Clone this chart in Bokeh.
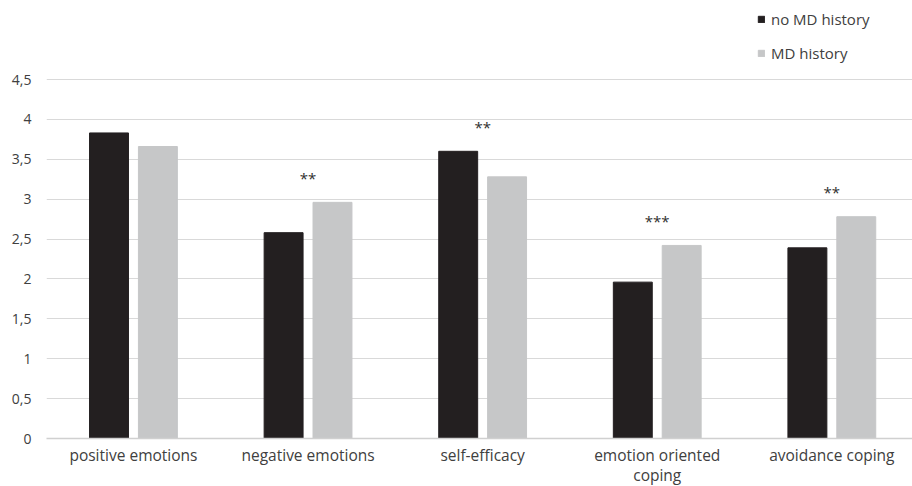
from bokeh.plotting import figure
from bokeh.models import Range1d, ColumnDataSource, Legend, LegendItem, FixedTicker
from bokeh.core.properties import value
from bokeh.embed import file_html
from bokeh.resources import INLINE

categories = ["positive emotions", "negative emotions", "self-efficacy", "emotion oriented\ncoping", "avoidance coping"]
no_md = [3.83, 2.58, 3.60, 1.96, 2.39]
md = [3.66, 2.96, 3.28, 2.42, 2.78]
signif = ["", "**", "**", "***", "**"]
y_ticks = [0, 0.5, 1, 1.5, 2, 2.5, 3, 3.5, 4, 4.5]
y_tick_labels = ["0", "0,5", "1", "1,5", "2", "2,5", "3", "3,5", "4", "4,5"]
series_names = ["no MD history", "MD history"]

FONT = "Open Sans"
TXT = "#404040"

idx = list(range(len(categories)))
off = 0.14
bw = 0.223

# frame spans from top of figure to the baseline; 4.5 gridline sits 79px below top
p = figure(output_backend="svg", toolbar_location=None,
           x_range=Range1d(-0.498, 4.462), y_range=Range1d(0, 4.5 * 438 / 359))
p.frame_width = 866
p.frame_height = 438
p.min_border_left = 46
p.min_border_right = 0
p.min_border_top = 0
p.min_border_bottom = 0
p.outline_line_color = None
p.background_fill_color = "white"
p.border_fill_color = "white"

src = ColumnDataSource(dict(
    x0=[i - off for i in idx], x1=[i + off for i in idx],
    a=no_md, b=md,
    xs=idx, ys=[max(a, b) + 0.31 for a, b in zip(no_md, md)], s=signif))

r1 = p.vbar(x="x0", top="a", width=bw, source=src, fill_color="#231f20", line_color="#231f20")
r2 = p.vbar(x="x1", top="b", width=bw, source=src, fill_color="#c6c7c8", line_color="#c6c7c8")
p.text(x="xs", y="ys", text="s", source=src, text_align="center", text_baseline="middle",
       text_font=value(FONT), text_font_size="15px", text_color="#303030")

# grid
p.xgrid.visible = False
p.ygrid.ticker = FixedTicker(ticks=y_ticks[1:])
p.ygrid.grid_line_color = "#d9d9d9"
p.ygrid.grid_line_width = 1

# y axis
p.yaxis.ticker = FixedTicker(ticks=y_ticks)
p.yaxis.major_label_overrides = {t: l for t, l in zip(y_ticks, y_tick_labels)}
p.yaxis.axis_line_color = None
p.yaxis.major_tick_line_color = None
p.yaxis.minor_tick_line_color = None
p.yaxis.major_tick_out = 0
p.yaxis.major_tick_in = 0
p.yaxis.major_label_text_font = FONT
p.yaxis.major_label_text_font_size = "14px"
p.yaxis.major_label_text_color = TXT
p.yaxis.major_label_standoff = 15

# x axis
p.xaxis.ticker = FixedTicker(ticks=idx)
p.xaxis.major_label_overrides = {i: c for i, c in zip(idx, categories)}
p.xaxis.axis_line_color = "#d0d0d0"
p.xaxis.axis_line_width = 1.5
p.xaxis.major_tick_line_color = None
p.xaxis.minor_tick_line_color = None
p.xaxis.major_tick_out = 0
p.xaxis.major_tick_in = 0
p.xaxis.major_label_text_font = FONT
p.xaxis.major_label_text_font_size = "15.5px"
p.xaxis.major_label_text_color = TXT
p.xaxis.major_label_text_line_height = 0.93
p.xaxis.major_label_standoff = 5

legend = Legend(items=[LegendItem(label=series_names[0], renderers=[r1]),
                       LegendItem(label=series_names[1], renderers=[r2])],
                location=(711, 375), orientation="vertical")
legend.padding = 0
legend.margin = 0
legend.spacing = 14
legend.glyph_height = 8
legend.glyph_width = 8
legend.label_height = 17
legend.label_standoff = 6
legend.border_line_color = None
legend.background_fill_alpha = 0
legend.label_text_font = FONT
legend.label_text_font_size = "15px"
legend.label_text_color = TXT
p.add_layout(legend, "center")

open("out.html", "w").write(file_html(p, INLINE))
